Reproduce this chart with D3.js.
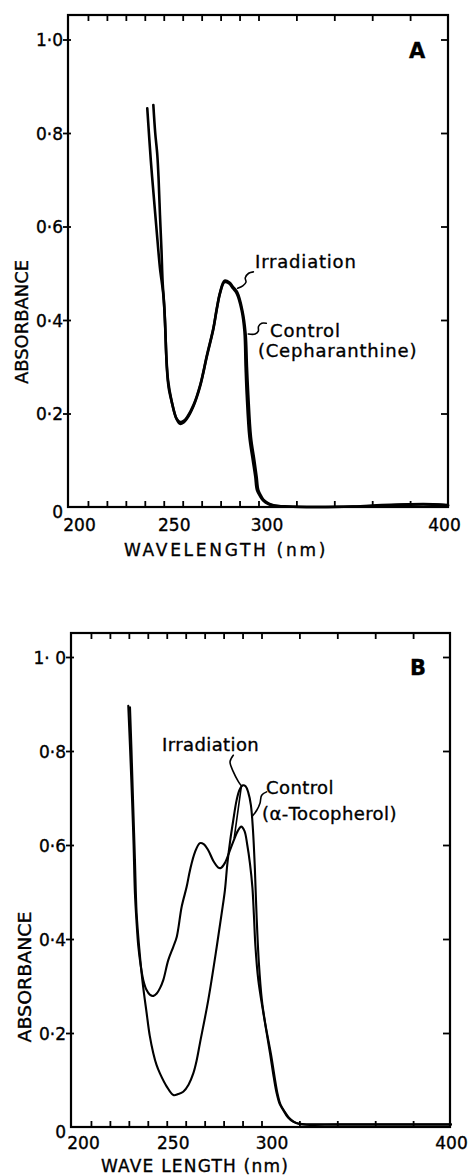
<!DOCTYPE html>
<html>
<head>
<meta charset="utf-8">
<script src="https://cdn.jsdelivr.net/npm/d3@7"></script>
<style>
  html, body { margin: 0; padding: 0; background: #fff; }
  svg { display: block; }
  text { font-family: "DejaVu Sans", "Liberation Sans", sans-serif; fill: #000; stroke: #000; stroke-width: 0.35px; }
</style>
</head>
<body>
<svg id="chart" width="469" height="1176"></svg>
<script>
// ---------------- DATA ----------------
const xMajorTicks = [200, 250, 300, 400];
const xTickLabels = ["200", "250", "300", "400"];
const xMinorTicks = [210, 220, 230, 240, 250, 260, 270, 280, 290, 300, 320, 340, 360, 380];
const yTicks = [0, 0.2, 0.4, 0.6, 0.8, 1.0];
const yTickLabelsA = ["0", "0·2", "0·4", "0·6", "0·8", "1·0"];
const yTickLabelsB = ["0", "0·2", "0·4", "0·6", "0·8", "1· 0"];

// Panel A : Cepharanthine  [wavelength nm, absorbance]
const irradiationA = [
  [241.3,0.853],[243.2,0.74],[245.4,0.632],[246.8,0.565],[248.0,0.511],[249.8,0.453],
  [250.7,0.393],[251.6,0.300],[252.6,0.255],[254.2,0.225],[256.8,0.188],[258.6,0.178],
  [260.5,0.181],[262.1,0.188],[265.6,0.215],[269.1,0.257],[272.7,0.321],[276.1,0.379],
  [277.9,0.421],[279.7,0.457],[282.0,0.481],[284.5,0.478],[286.5,0.468],[288.5,0.457],
  [291.1,0.421],[292.6,0.375],[293.2,0.30],[293.8,0.24],[295.2,0.15],[297.0,0.10],
  [298.3,0.065],[299.2,0.036],[301,0.022],[302.5,0.014],[305,0.007],[308,0.003],
  [315,0.001],[330,0],[350,0.001],[365,0.004],[380,0.006],[392,0.006],[400,0.004]
];
const controlA = [
  [244.5,0.86],[245.5,0.80],[246.6,0.753],[247.3,0.70],[248.0,0.625],[248.8,0.55],
  [249.4,0.482],[250.4,0.42],[251.4,0.32],[252.3,0.27],[254,0.23],[256.6,0.19],
  [258.6,0.182],[260.5,0.184],[262.3,0.192],[265.8,0.219],[269.3,0.262],[272.8,0.325],
  [276.2,0.383],[278,0.425],[279.8,0.46],[282.1,0.484],[284.7,0.48],[286.7,0.47],
  [288.8,0.459],[291.5,0.42],[293.2,0.37],[293.9,0.30],[294.6,0.24],[296.0,0.15],
  [297.8,0.10],[299.0,0.065],[299.9,0.036],[301.6,0.022],[303,0.014],[305.5,0.007],
  [308.5,0.003],[315,0.001],[330,0],[350,0.001],[365,0.003],[380,0.005],[392,0.005],[400,0.003]
];

// Panel B : alpha-Tocopherol
const irradiationB = [
  [229.7,0.896],[230.7,0.80],[231.7,0.696],[232.5,0.60],[233.2,0.498],[234.0,0.44],
  [235.0,0.384],[236.2,0.345],[237.6,0.313],[239.3,0.292],[241.2,0.281],[243,0.279],
  [244.7,0.284],[246.5,0.296],[248.2,0.313],[250.8,0.355],[253.5,0.384],[255.3,0.405],
  [257.9,0.469],[260.5,0.511],[262.3,0.547],[264.9,0.585],[267.5,0.604],[269.5,0.602],
  [271.9,0.589],[274.6,0.566],[277.2,0.552],[278.5,0.551],[280.7,0.562],[283,0.585],
  [285.1,0.607],[287.5,0.630],[289.3,0.639],[291.0,0.630],[292.5,0.60],[293.9,0.561],
  [295.2,0.51],[296.0,0.45],[296.8,0.384],[298.3,0.313],[301.0,0.242],[304.5,0.157],
  [306.5,0.105],[308.0,0.072],[309.7,0.048],[311.5,0.036],[314,0.02],[316.8,0.011],
  [320.3,0.007],[340,0.006],[360,0.006],[380,0.006],[400,0.006]
];
const controlB = [
  [230.6,0.893],[231.4,0.80],[232.2,0.696],[233.2,0.57],[234.1,0.455],[235.5,0.38],
  [237.2,0.31],[239.4,0.242],[241.0,0.195],[242.9,0.157],[244.6,0.132],[246.4,0.114],
  [250,0.086],[253.5,0.068],[256,0.070],[258.7,0.075],[261.5,0.09],[264,0.114],
  [265.8,0.142],[267.5,0.178],[271.9,0.270],[276.4,0.384],[279,0.455],[280.7,0.504],
  [282,0.561],[283.5,0.61],[285,0.65],[286.9,0.696],[288.5,0.718],[290.2,0.727],
  [291.6,0.725],[293,0.712],[294.4,0.685],[295.5,0.632],[296.5,0.55],[297.4,0.45],
  [298.6,0.35],[300.2,0.27],[302,0.22],[305,0.155],[308.4,0.072],[310,0.048],
  [312,0.034],[314.5,0.02],[317.2,0.011],[320.3,0.006],[340,0.005],[360,0.005],
  [380,0.005],[400,0.005]
];

// Annotation texts and leaders (data units)
const annotationsA = [
  { text: "Irradiation", at: [298.2, 0.511] },
  { text: "Control", at: [306.1, 0.364] },
  { text: "(Cepharanthine)", at: [299.7, 0.321] }
];
const leadersA = [
  [[297.3,0.503],[294.8,0.500],[293.0,0.490],[293.4,0.481],[291.7,0.473],[289.0,0.468]],
  [[304.1,0.393],[301.7,0.393],[300.0,0.386],[299.9,0.376],[298.2,0.370],[294.6,0.370]]
];
const annotationsB = [
  { text: "Irradiation", at: [247.5, 0.800] },
  { text: "Control", at: [302.4, 0.709] },
  { text: "(α-Tocopherol)", at: [300.3, 0.653] }
];
const leadersB = [
  [[285.1,0.791],[283.4,0.777],[285.1,0.756],[287.8,0.735],[289.4,0.726]],
  [[289.4,0.726],[285.6,0.615]],
  [[302.7,0.713],[300.1,0.706],[299.2,0.689],[297.5,0.674],[294.9,0.660]]
];

// ---------------- LAYOUT ----------------
const panels = [
  {
    letter: "A", letterAt: [379.4, 0.960],
    frame: { left: 68, right: 448, top: 15, bottom: 507 },
    xRange: [69, 448], yRange: [507, 39.5],
    yLabels: yTickLabelsA,
    xLabelDx: [10, 10, 8, -4], xLabelPad: 12,
    series: [irradiationA, controlA], strokeW: 2.6,
    annotations: annotationsA, leaders: leadersA,
    xTitle: "WAVELENGTH (nm)", xTitleX: 226, xTitleY: 556, xTitleLS: 2.7,
    yTitleX: 22, yTitleY: 322, yTitleLen: 124
  },
  {
    letter: "B", letterAt: [378.4, 0.962],
    frame: { left: 71, right: 450, top: 633, bottom: 1127 },
    xRange: [72, 451], yRange: [1127, 657],
    yLabels: yTickLabelsB,
    xLabelDx: [11, 6, 10, 0], xLabelPad: 10,
    series: [irradiationB, controlB], strokeW: 2.1,
    annotations: annotationsB, leaders: leadersB,
    xTitle: "WAVE LENGTH (nm)", xTitleX: 195, xTitleY: 1172, xTitleLS: 1.2,
    yTitleX: 24.5, yTitleY: 977, yTitleLen: 131
  }
];

const svg = d3.select("#chart");

panels.forEach(p => {
  const x = d3.scaleLinear().domain([200, 400]).range(p.xRange);
  const y = d3.scaleLinear().domain([0, 1]).range(p.yRange);
  const g = svg.append("g");
  const f = p.frame;

  // bottom minor ticks (inward)
  g.append("g").attr("transform", `translate(0,${f.bottom})`)
    .call(d3.axisBottom(x).tickValues(xMinorTicks).tickSizeInner(-6).tickSizeOuter(0).tickFormat(""))
    .call(s => s.select(".domain").remove())
    .call(s => s.selectAll("line").attr("stroke-width", 1.8));
  // top minor ticks (inward)
  g.append("g").attr("transform", `translate(0,${f.top})`)
    .call(d3.axisTop(x).tickValues(xMinorTicks).tickSizeInner(-6).tickSizeOuter(0).tickFormat(""))
    .call(s => s.select(".domain").remove())
    .call(s => s.selectAll("line").attr("stroke-width", 1.8));
  // bottom labels
  g.append("g").attr("transform", `translate(0,${f.bottom})`)
    .call(d3.axisBottom(x).tickValues(xMajorTicks).tickSize(0).tickPadding(p.xLabelPad)
      .tickFormat((d, i) => xTickLabels[i]))
    .call(s => s.select(".domain").remove())
    .call(s => s.selectAll("text")
      .attr("font-size", 17)
      .attr("font-family", "DejaVu Sans")
      .attr("dx", (d, i) => p.xLabelDx[i]));

  // left ticks + labels
  g.append("g").attr("transform", `translate(${f.left},0)`)
    .call(d3.axisLeft(y).tickValues(yTicks).tickSizeInner(5).tickSizeOuter(0).tickPadding(0)
      .tickFormat((d, i) => p.yLabels[i]))
    .call(s => s.select(".domain").remove())
    .call(s => s.selectAll("line").attr("stroke-width", 1.8).attr("x2", -5).attr("x1", 3))
    .call(s => s.selectAll("text")
      .attr("font-size", 17)
      .attr("font-family", "DejaVu Sans")
      .attr("dy", d => d === 0 ? "0.62em" : "0.36em"))
    .call(s => s.selectAll(".tick").filter(d => d === 0).select("line").remove());
  // right ticks (inward)
  g.append("g").attr("transform", `translate(${f.right},0)`)
    .call(d3.axisRight(y).tickValues(yTicks.filter(d => d > 0)).tickSizeInner(-7).tickSizeOuter(0).tickFormat(""))
    .call(s => s.select(".domain").remove())
    .call(s => s.selectAll("line").attr("stroke-width", 1.8));

  // frame
  g.append("rect")
    .attr("x", f.left).attr("y", f.top)
    .attr("width", f.right - f.left).attr("height", f.bottom - f.top)
    .attr("fill", "none").attr("stroke", "#000").attr("stroke-width", 2.2);

  // curves
  const line = d3.line().x(d => x(d[0])).y(d => y(d[1])).curve(d3.curveCatmullRom.alpha(0.5));
  p.series.forEach(s => {
    g.append("path").attr("d", line(s))
      .attr("fill", "none").attr("stroke", "#000")
      .attr("stroke-width", p.strokeW).attr("stroke-linejoin", "round").attr("stroke-linecap", "round");
  });

  // leaders
  p.leaders.forEach(l => {
    g.append("path").attr("d", line(l))
      .attr("fill", "none").attr("stroke", "#000").attr("stroke-width", 1.6).attr("stroke-linecap", "round");
  });

  // annotations
  p.annotations.forEach(a => {
    g.append("text")
      .attr("x", x(a.at[0])).attr("y", y(a.at[1]))
      .attr("font-size", 18)
      .attr("letter-spacing", p.letter === "A" ? 0.8 : 0.4)
      .text(a.text);
  });

  // panel letter
  g.append("text")
    .attr("x", x(p.letterAt[0])).attr("y", y(p.letterAt[1]))
    .attr("font-size", 21).attr("font-weight", "bold")
    .text(p.letter);

  // x title
  g.append("text")
    .attr("x", p.xTitleX).attr("y", p.xTitleY)
    .attr("text-anchor", "middle")
    .attr("font-size", 17)
    .attr("letter-spacing", p.xTitleLS)
    .text(p.xTitle);

  // y title
  g.append("text")
    .attr("transform", `translate(${p.yTitleX},${p.yTitleY}) rotate(-90)`)
    .attr("text-anchor", "middle")
    .attr("dy", "0.36em")
    .attr("font-size", 17)
    .attr("textLength", p.yTitleLen)
    .attr("lengthAdjust", "spacingAndGlyphs")
    .text("ABSORBANCE");
});
</script>
</body>
</html>
